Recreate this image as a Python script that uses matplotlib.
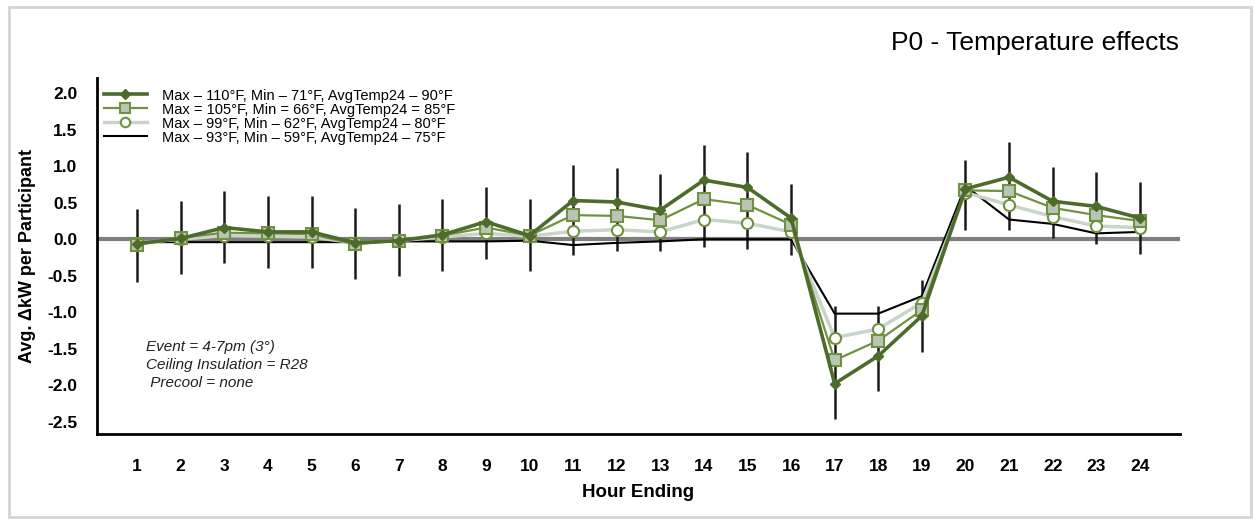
import matplotlib.pyplot as plt
from matplotlib.patches import Rectangle

plt.rcParams['font.family'] = ['Liberation Sans', 'DejaVu Sans']

hours = list(range(1, 25))

# Avg. delta kW per participant, one list per temperature condition
max110 = [-0.06, 0.01, 0.16, 0.10, 0.10, -0.05, -0.02, 0.06, 0.24, 0.05, 0.53, 0.51,
          0.40, 0.81, 0.71, 0.29, -1.98, -1.60, -1.05, 0.69, 0.85, 0.52, 0.45, 0.29]
max105 = [-0.08, 0.02, 0.09, 0.08, 0.07, -0.07, -0.02, 0.05, 0.16, 0.05, 0.33, 0.32,
          0.26, 0.55, 0.47, 0.20, -1.66, -1.39, -0.97, 0.67, 0.66, 0.43, 0.33, 0.25]
max99 = [-0.05, 0.00, 0.05, 0.04, 0.03, -0.05, -0.02, 0.03, 0.08, 0.04, 0.11, 0.13,
         0.10, 0.27, 0.22, 0.10, -1.35, -1.23, -0.87, 0.64, 0.47, 0.31, 0.18, 0.16]
max93 = [-0.04, -0.04, -0.04, -0.04, -0.04, -0.04, -0.03, -0.03, -0.03, -0.02, -0.08, -0.05,
         -0.03, 0.00, 0.00, 0.00, -1.02, -1.02, -0.78, 0.73, 0.27, 0.21, 0.08, 0.10]

# error bar extents
err_hi = [0.41, 0.52, 0.66, 0.59, 0.59, 0.43, 0.48, 0.55, 0.71, 0.55, 1.02, 0.97,
          0.89, 1.29, 1.20, 0.76, -0.91, -0.91, -0.56, 1.09, 1.33, 0.99, 0.92, 0.78]
err_lo = [-0.59, -0.48, -0.32, -0.39, -0.39, -0.55, -0.50, -0.43, -0.27, -0.43, -0.22, -0.16,
          -0.16, -0.10, -0.14, -0.22, -2.47, -2.08, -1.55, 0.12, 0.13, 0.01, -0.06, -0.20]

labels = ['Max \u2013 110°F, Min \u2013 71°F, AvgTemp24 \u2013 90°F',
          'Max = 105°F, Min = 66°F, AvgTemp24 = 85°F',
          'Max \u2013 99°F, Min \u2013 62°F, AvgTemp24 \u2013 80°F',
          'Max \u2013 93°F, Min \u2013 59°F, AvgTemp24 \u2013 75°F']

yticks = [2.0, 1.5, 1.0, 0.5, 0.0, -0.5, -1.0, -1.5, -2.0, -2.5]

fig = plt.figure(figsize=(12.57, 5.2), dpi=100)
ax = fig.add_axes([0.0772, 0.1654, 0.8615, 0.6846])

# frame around the whole picture
fig.patches.append(Rectangle((0.007, 0.006), 0.988, 0.98, transform=fig.transFigure,
                             fill=False, edgecolor='#d4d4d4', lw=2))

ax.axhline(0, color='#7f7f7f', lw=3, zorder=1)
ax.vlines(hours, err_lo, err_hi, color='#1a1a1a', lw=1.8, zorder=2)

ax.plot(hours, max93, color='black', lw=1.5, zorder=3, label=labels[3])
ax.plot(hours, max99, color='#c9d5c9', lw=2.5, marker='o', ms=8,
        mfc='white', mec='#6f9140', mew=1.5, zorder=4, label=labels[2])
ax.plot(hours, max105, color='#6f9140', lw=1.6, marker='s', ms=8,
        mfc='#b9c6b6', mec='#6f9140', mew=1.5, zorder=5, label=labels[1])
ax.plot(hours, max110, color='#4d6b2b', lw=2.6, marker='D', ms=5.5,
        mfc='#4d6b2b', mec='#4d6b2b', zorder=6, label=labels[0])

h, l = ax.get_legend_handles_labels()
ax.legend(h[::-1], l[::-1], loc='upper left', bbox_to_anchor=(-0.002, 0.995),
          frameon=False, fontsize=10.5, labelspacing=0.0, handlelength=3.0,
          handletextpad=1.0, borderaxespad=0.2, markerscale=0.85)

ax.text(0.045, 0.265, 'Event = 4-7pm (3°)\nCeiling Insulation = R28\n Precool = none',
        transform=ax.transAxes, fontsize=11, style='italic', va='top',
        linespacing=1.4, color='#222222')

ax.set_xlim(0.08, 24.92)
ax.set_ylim(-2.67, 2.21)
ax.set_xticks(hours)
ax.set_yticks(yticks)
ax.set_yticklabels(['%.1f' % v for v in yticks])
ax.tick_params(length=0, labelsize=12.5)
ax.tick_params(axis='x', pad=18)
ax.tick_params(axis='y', pad=14)
for t in ax.get_xticklabels() + ax.get_yticklabels():
    t.set_fontweight('bold')

for s in ['top', 'right']:
    ax.spines[s].set_visible(False)
for s in ['left', 'bottom']:
    ax.spines[s].set_linewidth(2)
    ax.spines[s].set_color('black')

ax.set_xlabel('Hour Ending', fontsize=13.5, fontweight='bold', labelpad=7)
ax.set_ylabel('Avg. \u0394kW per Participant', fontsize=13, fontweight='bold', labelpad=8)

fig.text(0.938, 0.917, 'P0 - Temperature effects', ha='right', va='center', fontsize=19)

fig.savefig('out.png', dpi=100)
